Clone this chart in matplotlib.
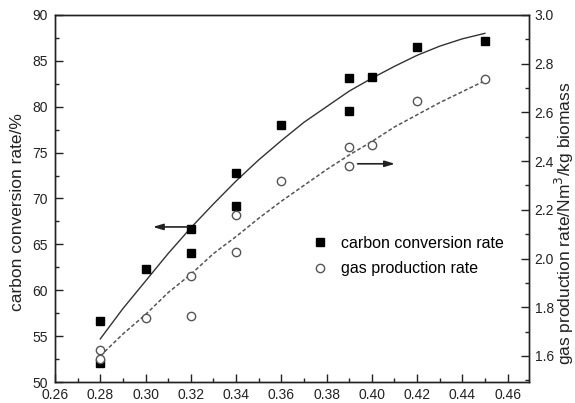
import matplotlib.pyplot as plt
from matplotlib.ticker import MultipleLocator

plt.rcParams['font.family'] = ['Liberation Sans', 'DejaVu Sans']

# measured points (mass ratio on x)
ratio_c = [0.28, 0.28, 0.30, 0.32, 0.32, 0.34, 0.34, 0.36, 0.39, 0.39, 0.40, 0.42, 0.45]
carbon_conv = [56.7, 52.1, 62.3, 66.7, 64.1, 72.8, 69.2, 78.0, 83.1, 79.5, 83.2, 86.5, 87.2]

ratio_g = [0.28, 0.28, 0.30, 0.32, 0.32, 0.34, 0.34, 0.36, 0.39, 0.39, 0.40, 0.42, 0.45]
gas_rate = [1.625, 1.588, 1.755, 1.927, 1.766, 2.177, 2.026, 2.318, 2.458, 2.380, 2.466, 2.647, 2.737]

# fitted curves
fit_x = [0.28, 0.29, 0.30, 0.31, 0.32, 0.33, 0.34, 0.35, 0.36, 0.37, 0.38,
         0.39, 0.40, 0.41, 0.42, 0.43, 0.44, 0.45]
fit_carbon = [54.7, 58.0, 61.0, 64.0, 66.8, 69.4, 71.9, 74.2, 76.3, 78.3, 80.0,
              81.7, 83.1, 84.4, 85.6, 86.6, 87.4, 88.0]
fit_gas = [1.60, 1.69, 1.77, 1.86, 1.935, 2.02, 2.09, 2.165, 2.235, 2.30, 2.365,
           2.425, 2.48, 2.54, 2.59, 2.64, 2.685, 2.73]

fig = plt.figure(figsize=(5.75, 4.03), dpi=100)
ax = fig.add_axes([0.0957, 0.0521, 0.8243, 0.9107])
ax2 = ax.twinx()

# left axis: carbon conversion
ax.plot(fit_x, fit_carbon, color='#333333', lw=1.0, zorder=2)
ax.plot(ratio_c, carbon_conv, 's', color='black', ms=6, zorder=3, label='carbon conversion rate')

# right axis: gas production
ax2.plot(fit_x, fit_gas, color='#555555', lw=1.1, linestyle=(0, (2.5, 1.5)), zorder=2)
ax2.plot(ratio_g, gas_rate, 'o', mfc='white', mec='#555555', mew=1.0, ms=6, zorder=3,
         label='gas production rate')

# arrows pointing at the axes
ax.annotate('', xy=(0.302, 66.9), xytext=(0.32, 66.9),
            arrowprops=dict(arrowstyle='-|>,head_length=0.6,head_width=0.18', color='#222222', lw=1.2))
ax2.annotate('', xy=(0.4115, 2.389), xytext=(0.3925, 2.389),
             arrowprops=dict(arrowstyle='-|>,head_length=0.6,head_width=0.18', color='#222222', lw=1.2))

ax.set_xlim(0.26, 0.4695)
ax.set_ylim(50, 90)
ax2.set_ylim(1.493, 3.0)

ax.xaxis.set_major_locator(MultipleLocator(0.02))
ax.xaxis.set_minor_locator(MultipleLocator(0.01))
ax.yaxis.set_major_locator(MultipleLocator(5))
ax.yaxis.set_minor_locator(MultipleLocator(2.5))
ax2.yaxis.set_major_locator(MultipleLocator(0.2))
ax2.yaxis.set_minor_locator(MultipleLocator(0.1))
ax.xaxis.set_major_formatter(plt.FuncFormatter(lambda v, p: f'{v:.2f}'))
ax2.yaxis.set_major_formatter(plt.FuncFormatter(lambda v, p: f'{v:.1f}'))

for a in (ax, ax2):
    for s in a.spines.values():
        s.set_linewidth(1.0)
        s.set_color('#222222')
ax.tick_params(which='major', direction='in', length=6, width=1.0, labelsize=10, pad=5, colors='#222222')
ax.tick_params(which='minor', direction='in', length=3, width=1.0, colors='#222222')
ax.tick_params(axis='x', pad=4)
ax2.tick_params(which='major', direction='in', length=6, width=1.0, labelsize=10, pad=4, colors='#222222')
ax2.tick_params(which='minor', direction='in', length=3, width=1.0, colors='#222222')

fig.text(0.0296, 0.4727, 'carbon conversion rate/%', rotation=90, ha='center', va='center',
         fontsize=12.5, color='#222222')
fig.text(0.981, 0.4467, 'gas production rate/Nm$^3$/kg biomass', rotation=90, ha='center', va='center',
         fontsize=12.5, color='#222222')

h1, l1 = ax.get_legend_handles_labels()
h2, l2 = ax2.get_legend_handles_labels()
ax2.legend(h1 + h2, l1 + l2, loc='upper left', bbox_to_anchor=(0.525, 0.42), frameon=False,
           fontsize=11.5, borderpad=0, handlelength=1.0, handletextpad=0.8, labelspacing=0.65)

fig.savefig('out.png', dpi=100)
